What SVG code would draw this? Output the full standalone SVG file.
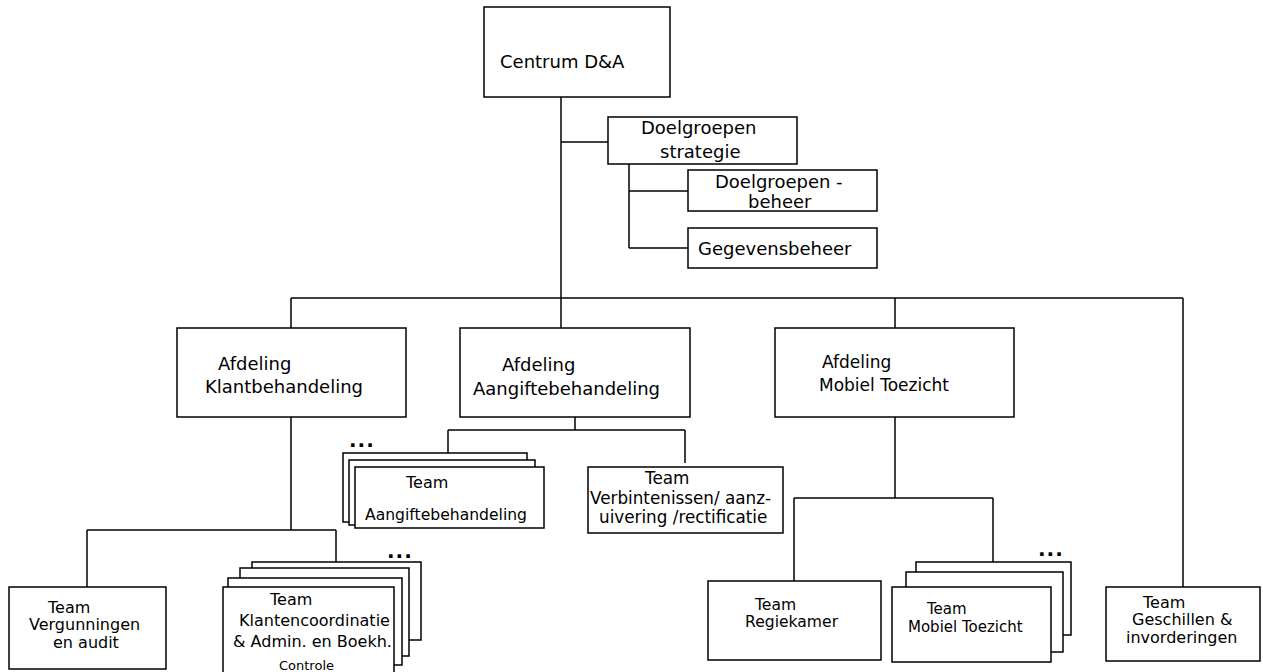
<svg xmlns="http://www.w3.org/2000/svg" width="1263" height="672" viewBox="0 0 1263 672">
<style>
rect{fill:#fff;stroke:#000;stroke-width:1.5}
.c line{stroke:#000;stroke-width:1.5}
text{font-family:"DejaVu Sans","Liberation Sans",sans-serif;font-size:16px;fill:#000}
.lg{font-size:18px}
.md{font-size:17px}
.sm{font-size:13px}
.dots{font-weight:bold;font-size:20px;letter-spacing:1px}
</style>
<rect x="0" y="0" width="1263" height="672" style="stroke:none"/>
<g class="c" id="connectors">
<line x1="561" y1="97" x2="561" y2="328"/>
<line x1="561" y1="142" x2="608" y2="142"/>
<line x1="629" y1="164" x2="629" y2="248"/>
<line x1="629" y1="191" x2="688" y2="191"/>
<line x1="629" y1="248" x2="688" y2="248"/>
<line x1="291" y1="298" x2="1183" y2="298"/>
<line x1="291" y1="298" x2="291" y2="328"/>
<line x1="895" y1="298" x2="895" y2="328"/>
<line x1="1183" y1="298" x2="1183" y2="587"/>
<line x1="291" y1="417" x2="291" y2="530"/>
<line x1="87" y1="530" x2="336" y2="530"/>
<line x1="87" y1="530" x2="87" y2="587"/>
<line x1="336" y1="530" x2="336" y2="562"/>
<line x1="575" y1="417" x2="575" y2="430"/>
<line x1="448" y1="430" x2="685" y2="430"/>
<line x1="448" y1="430" x2="448" y2="453"/>
<line x1="685" y1="430" x2="685" y2="463"/>
<line x1="895" y1="417" x2="895" y2="498"/>
<line x1="794" y1="498" x2="993" y2="498"/>
<line x1="794" y1="498" x2="794" y2="581"/>
<line x1="993" y1="498" x2="993" y2="562"/>
</g>
<g id="centrum">
<rect x="484" y="7" width="186" height="90"/>
<text class="lg" x="500" y="68">Centrum D&amp;A</text>
</g>
<g id="doelgroepen-strategie">
<rect x="608" y="117" width="189" height="47"/>
<text class="lg" x="641" y="134">Doelgroepen</text>
<text class="lg" x="660" y="158">strategie</text>
</g>
<g id="doelgroepen-beheer">
<rect x="688" y="170" width="189" height="41"/>
<text class="lg" x="715" y="188">Doelgroepen -</text>
<text class="lg" x="748" y="208">beheer</text>
</g>
<g id="gegevensbeheer">
<rect x="688" y="228" width="189" height="40"/>
<text class="lg" x="698" y="255">Gegevensbeheer</text>
</g>
<g id="afd-klant">
<rect x="177" y="328" width="229" height="89"/>
<text class="lg" x="218" y="370">Afdeling</text>
<text class="lg" x="205" y="393">Klantbehandeling</text>
</g>
<g id="afd-aangifte">
<rect x="460" y="328" width="230" height="89"/>
<text class="lg" x="502" y="371">Afdeling</text>
<text class="lg" x="473" y="395">Aangiftebehandeling</text>
</g>
<g id="afd-mobiel">
<rect x="775" y="328" width="239" height="89"/>
<text class="md" x="822" y="368">Afdeling</text>
<text class="md" x="819" y="391">Mobiel Toezicht</text>
</g>
<g id="team-aangifte">
<text class="dots" x="349" y="447">...</text>
<rect x="343" y="453" width="184" height="69"/>
<rect x="349" y="460" width="186" height="65"/>
<rect x="355" y="467" width="189" height="61"/>
<text x="406" y="488">Team</text>
<text style="font-size:15.6px" x="365" y="520">Aangiftebehandeling</text>
</g>
<g id="team-verbintenissen">
<rect x="588" y="467" width="195" height="66"/>
<text style="font-size:16.8px" x="645" y="484">Team</text>
<text style="font-size:16.8px" x="590" y="504">Verbintenissen/ aanz-</text>
<text style="font-size:16.8px" x="599" y="523">uivering /rectificatie</text>
</g>
<g id="team-vergunningen">
<rect x="9" y="587" width="157" height="82"/>
<text x="48" y="613">Team</text>
<text x="29" y="630">Vergunningen</text>
<text x="53" y="648">en audit</text>
</g>
<g id="team-klantencoordinatie">
<text class="dots" x="387" y="558">...</text>
<rect x="252" y="562" width="169" height="78"/>
<rect x="240" y="568" width="169" height="88"/>
<rect x="228" y="578" width="174" height="87"/>
<rect x="223" y="587" width="171" height="95"/>
<text x="270" y="605">Team</text>
<text x="239" y="626">Klantencoordinatie</text>
<text x="233" y="647">&amp; Admin. en Boekh.</text>
<text class="sm" x="279" y="670">Controle</text>
</g>
<g id="team-regiekamer">
<rect x="708" y="581" width="173" height="79"/>
<text style="font-size:15.6px" x="755" y="610">Team</text>
<text style="font-size:15.6px" x="745" y="627">Regiekamer</text>
</g>
<g id="team-mobiel">
<text class="dots" x="1038" y="556">...</text>
<rect x="916" y="562" width="155" height="73"/>
<rect x="906" y="572" width="157" height="80"/>
<rect x="892" y="587" width="159" height="75"/>
<text style="font-size:15px" x="927" y="614">Team</text>
<text style="font-size:15px" x="908" y="632">Mobiel Toezicht</text>
</g>
<g id="team-geschillen">
<rect x="1106" y="587" width="154" height="74"/>
<text x="1143" y="608">Team</text>
<text x="1132" y="625">Geschillen &amp;</text>
<text x="1126" y="643">invorderingen</text>
</g>
</svg>
